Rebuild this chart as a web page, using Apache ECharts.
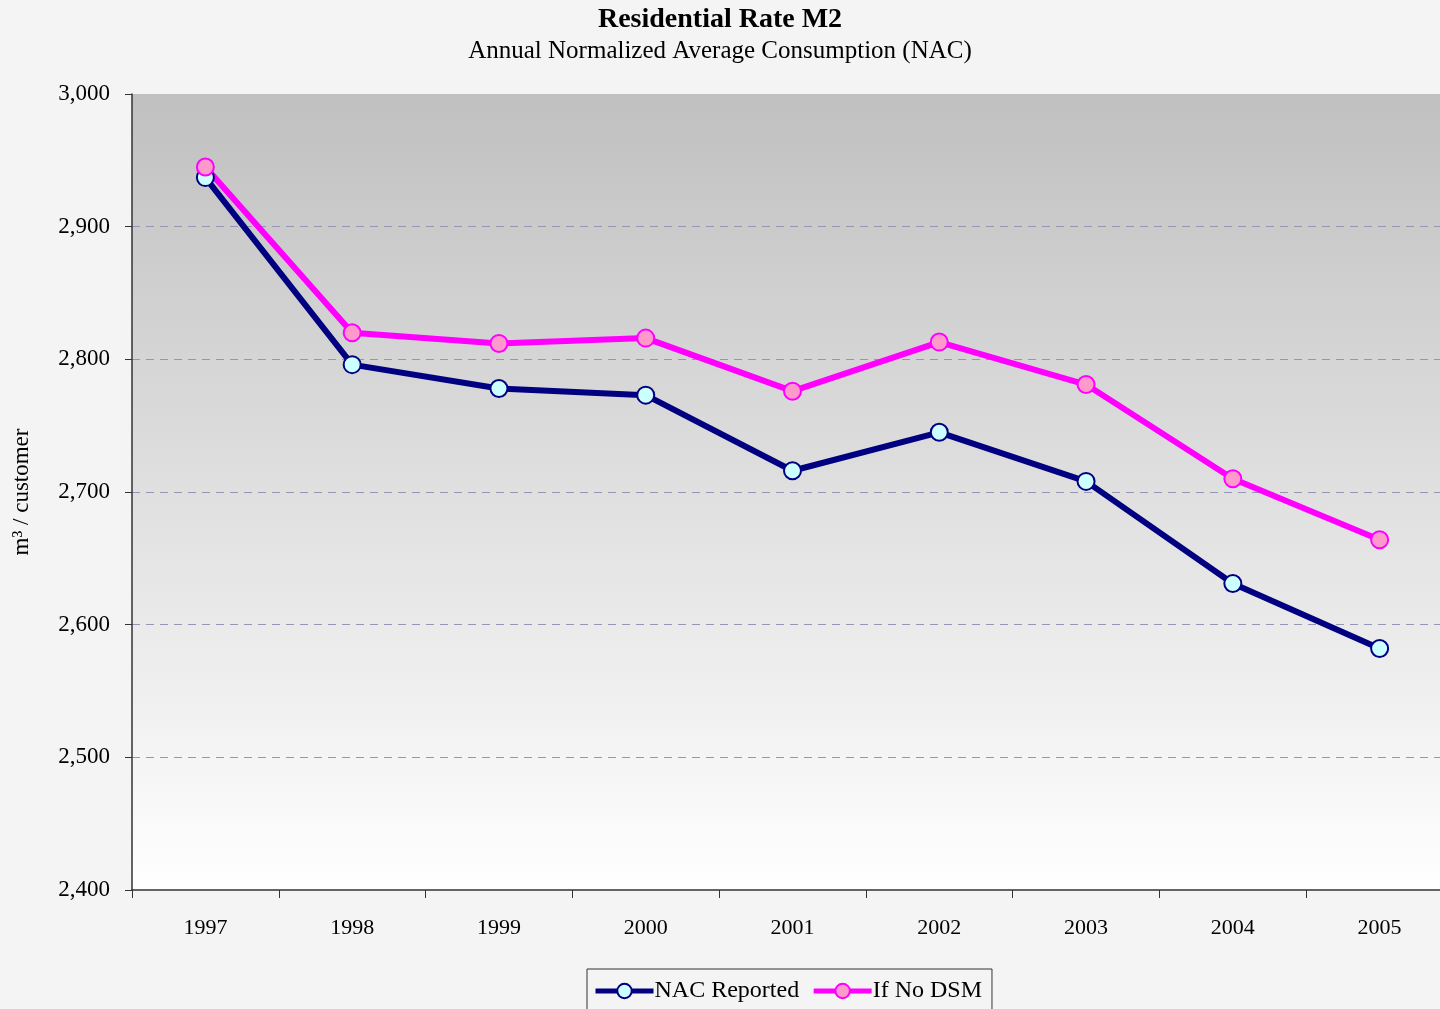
<!DOCTYPE html>
<html><head><meta charset="utf-8">
<script src="https://cdn.jsdelivr.net/npm/echarts@6/dist/echarts.min.js"></script>
<style>html,body{margin:0;padding:0;background:#f4f4f4;}#c{width:1440px;height:1009px;}</style>
</head><body><div id="c"></div>
<script>
const years = ['1997','1998','1999','2000','2001','2002','2003','2004','2005'];
const nacReported = [2937, 2796, 2778, 2773, 2716, 2745, 2708, 2631, 2582];
const ifNoDSM = [2945, 2820, 2812, 2816, 2776, 2813, 2781, 2710, 2664];
const yTicks = {min: 2400, max: 3000, interval: 100};

const chart = echarts.init(document.getElementById('c'), null, {renderer: 'canvas'});
const font = 'Liberation Serif';
chart.setOption({
  backgroundColor: '#f4f4f4',
  animation: false,
  title: {
    text: 'Residential Rate M2',
    subtext: 'Annual Normalized Average Consumption (NAC)',
    left: 'center', top: 1, itemGap: 5,
    textStyle: {fontFamily: font, fontSize: 28, fontWeight: 'bold', color: '#000'},
    subtextStyle: {fontFamily: font, fontSize: 25, color: '#000'}
  },
  legend: {
    left: 587, top: 969,
    data: ['NAC Reported', 'If No DSM'],
    itemWidth: 58, itemHeight: 18, itemGap: 12,
    borderColor: '#333', borderWidth: 1, padding: [10, 10, 14, 6],
    backgroundColor: '#f4f4f4',
    lineStyle: {width: 5},
    textStyle: {fontFamily: font, fontSize: 24, color: '#000', padding: [0,0,0,-4]}
  },
  grid: {
    left: 132, width: 1321, top: 94, height: 796,
    outerBoundsMode: 'none', containLabel: false,
    show: true, borderWidth: 0,
    backgroundColor: {type: 'linear', x: 0, y: 0, x2: 0, y2: 1,
      colorStops: [{offset: 0, color: '#c0c0c0'}, {offset: 1, color: '#ffffff'}]}
  },
  xAxis: {
    type: 'category', data: years, boundaryGap: true,
    axisLine: {lineStyle: {color: '#333', width: 1.5}},
    axisTick: {show: true, length: 8, lineStyle: {color: '#333'}},
    axisLabel: {fontFamily: font, fontSize: 22, color: '#000', margin: 27}
  },
  yAxis: {
    type: 'value', min: yTicks.min, max: yTicks.max, interval: yTicks.interval,
    name: 'm³ / customer', nameLocation: 'middle', nameGap: 99, nameRotate: 90,
    nameTextStyle: {fontFamily: font, fontSize: 23, color: '#000'},
    axisLine: {show: true, lineStyle: {color: '#333', width: 1.5}},
    axisTick: {show: true, length: 7, lineStyle: {color: '#333'}},
    axisLabel: {fontFamily: font, fontSize: 23, color: '#000', margin: 22,
      formatter: v => v.toLocaleString('en-US')},
    splitLine: {show: true, showMaxLine: false, showMinLine: false,
      lineStyle: {color: '#9595b5', type: [8, 6], width: 1}}
  },
  series: [
    {name: 'NAC Reported', type: 'line', data: nacReported,
     symbol: 'circle', symbolSize: 17,
     lineStyle: {color: '#000080', width: 6},
     itemStyle: {color: '#ccffff', borderColor: '#000080', borderWidth: 2}},
    {name: 'If No DSM', type: 'line', data: ifNoDSM,
     symbol: 'circle', symbolSize: 17,
     lineStyle: {color: '#ff00ff', width: 6},
     itemStyle: {color: '#ff99cc', borderColor: '#ff00ff', borderWidth: 2}}
  ]
});
</script></body></html>
